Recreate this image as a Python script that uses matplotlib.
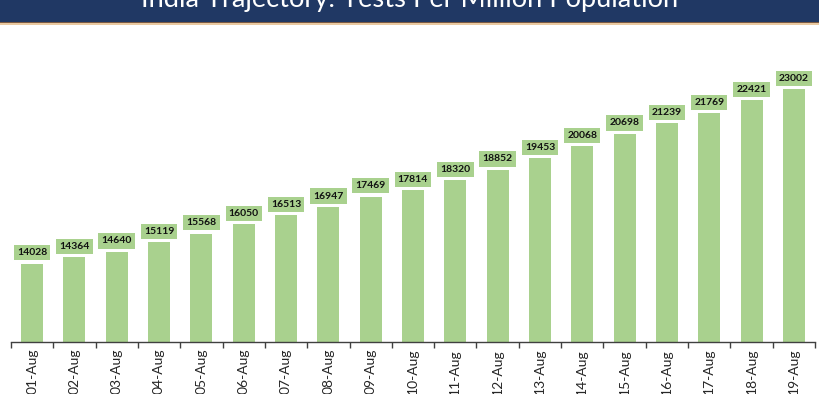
# India trajectory - tests per million population, bar chart
import matplotlib
matplotlib.use('Agg')
from matplotlib import pyplot as plt
from matplotlib.patches import Rectangle

plt.rcParams['font.family'] = ['Lato', 'DejaVu Sans']

dates = ['01-Aug', '02-Aug', '03-Aug', '04-Aug', '05-Aug', '06-Aug', '07-Aug',
         '08-Aug', '09-Aug', '10-Aug', '11-Aug', '12-Aug', '13-Aug', '14-Aug',
         '15-Aug', '16-Aug', '17-Aug', '18-Aug', '19-Aug']
tpm = [14028, 14364, 14640, 15119, 15568, 16050, 16513, 16947, 17469, 17814,
       18320, 18852, 19453, 20068, 20698, 21239, 21769, 22421, 23002]

title = 'India Trajectory: Tests Per Million Population'
bar_color = '#a9d18e'
W, H = 820, 394

fig = plt.figure(figsize=(W / 100, H / 100), dpi=100)

# title band on top
fig.patches.append(Rectangle((0, 1 - 22 / H), 1, 22 / H, transform=fig.transFigure,
                             facecolor='#203864', edgecolor='none', zorder=0))
fig.patches.append(Rectangle((0, 1 - 23 / H), 1, 1 / H, transform=fig.transFigure,
                             facecolor='#7a5a44', edgecolor='none', zorder=0))
fig.patches.append(Rectangle((0, 1 - 25 / H), 1, 2 / H, transform=fig.transFigure,
                             facecolor='#eac9a0', edgecolor='none', zorder=0))
t = fig.text(0.5, 1 - 7 / H, title, color='white', ha='center', va='baseline',
             fontsize=16)
# fit title width to ~540px
r = fig.canvas.get_renderer()
w = t.get_window_extent(r).width
t.set_fontsize(16 * 540 / w)

ax = fig.add_axes([11 / W, 1 - 342 / H, (815 - 11) / W, (342 - 50) / H])
x = list(range(len(dates)))
ax.bar(x, tpm, width=0.52, color=bar_color, zorder=2)

for i, v in enumerate(tpm):
    ax.annotate(str(v), (i, v), xytext=(0, 4.5), textcoords='offset points',
                ha='center', va='bottom', fontsize=7.5, fontweight='bold',
                color='#111111',
                bbox=dict(boxstyle='square,pad=0.3', facecolor=bar_color,
                          edgecolor='none'))

ax.set_xlim(-0.5, len(dates) - 0.5)
ax.set_ylim(10000, 25000)
ax.set_xticks(x)
ax.set_xticklabels(dates, rotation=90, fontsize=10, color='#262626')
ax.set_xticks([i - 0.5 for i in range(len(dates) + 1)], minor=True)
ax.tick_params(axis='x', which='major', length=0, pad=5)
ax.tick_params(axis='x', which='minor', length=4, width=1, color='#404040')
ax.set_yticks([])
for s in ['left', 'right', 'top']:
    ax.spines[s].set_visible(False)
ax.spines['bottom'].set_color('#404040')
ax.spines['bottom'].set_linewidth(1)

plt.savefig('out.png', dpi=100)
